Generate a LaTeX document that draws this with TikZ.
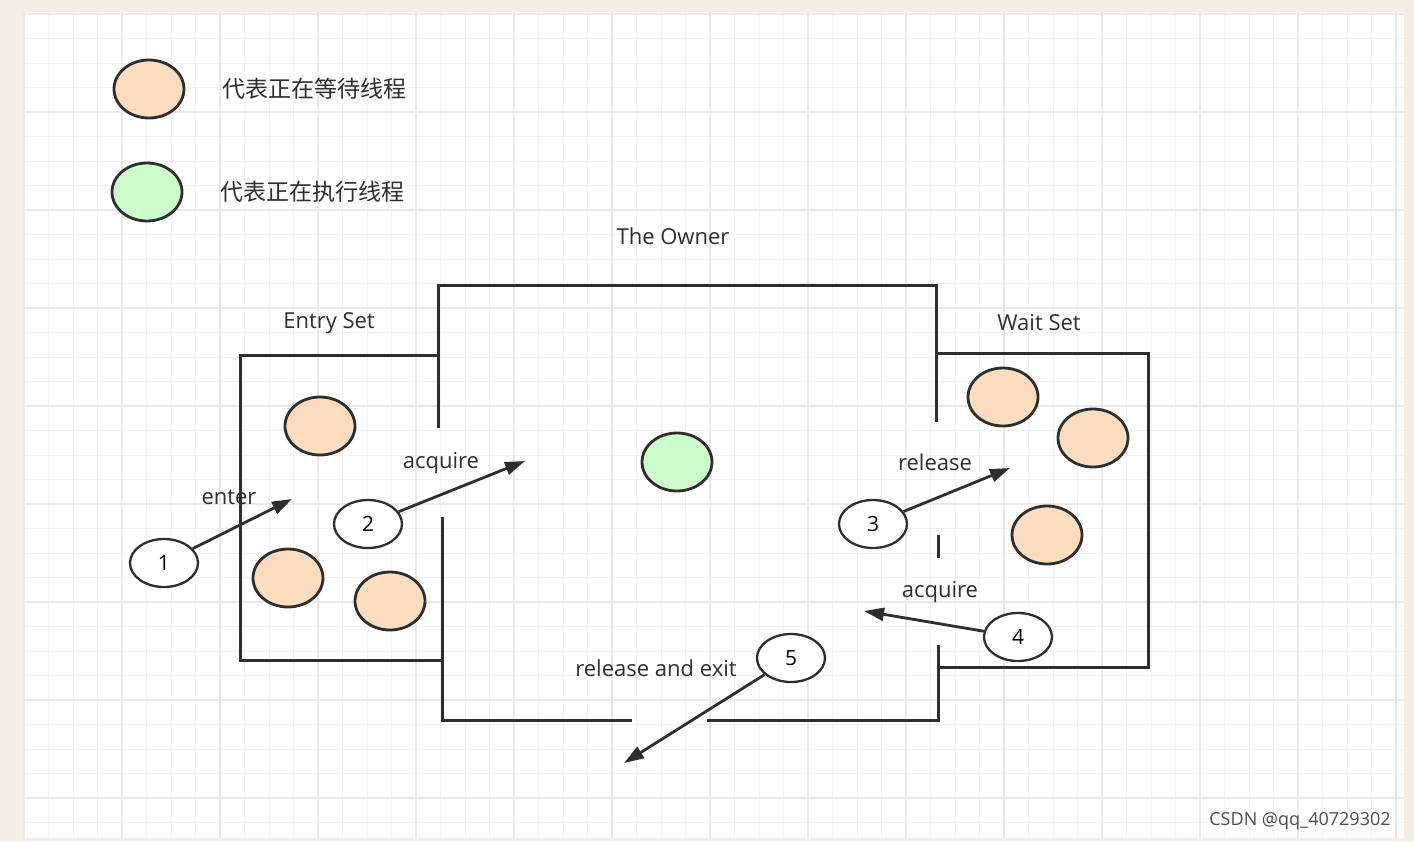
\documentclass[tikz,border=0pt]{standalone}
\usepackage{fontspec}
\setmainfont{Open Sans}
\newfontfamily\cjk{Noto Sans CJK SC}
\usetikzlibrary{arrows.meta,shapes.geometric}
\definecolor{bgout}{HTML}{F3EDE4}
\definecolor{gridc}{HTML}{F2F2F2}
\definecolor{gridm}{HTML}{E8E8E8}
\definecolor{orng}{HTML}{FDDCBF}
\definecolor{grn}{HTML}{CCFBCC}
\definecolor{ink}{HTML}{2E2E2E}
\begin{document}
\begin{tikzpicture}[x=1pt,y=-1pt,
  th/.style={ellipse,draw=ink,line width=2.8pt,minimum width=70pt,minimum height=58pt,inner sep=0pt},
  num/.style={ellipse,draw=ink,line width=2.3pt,fill=white,minimum width=68pt,minimum height=48pt,inner sep=0pt,font=\fontsize{21}{24}\selectfont},
  wall/.style={draw=ink,line width=3pt},
  arr/.style={draw=ink,line width=2.8pt,-{Triangle[length=20pt,width=13pt]}},
  lbl/.style={font=\fontsize{22}{26}\selectfont,text=ink}]
\useasboundingbox (0,0) rectangle (1414,841);
\fill[bgout] (0,0) rectangle (1414,841);
\fill[white] (24,12) rectangle (1404,838);
\foreach \i in {0,...,56} {\draw[gridc,line width=1pt] (24+24.5*\i,12) -- (24+24.5*\i,838);}
\foreach \j in {0,...,33} {\draw[gridc,line width=1pt] (24,14+24.5*\j) -- (1404,14+24.5*\j);}
\foreach \i in {0,...,14} {\draw[gridm,line width=1.2pt] (24+98*\i,12) -- (24+98*\i,838);}
\foreach \j in {0,...,8} {\draw[gridm,line width=1.2pt] (24,14+98*\j) -- (1404,14+98*\j);}
% legend
\node[th,fill=orng] (lo) at (149,89) {};
\node[th,fill=grn] (lg) at (147,192) {};
\node[lbl,anchor=west,font=\cjk\fontsize{23}{26}\selectfont] (lt1) at (219,89) {代表正在等待线程};
\node[lbl,anchor=west,font=\cjk\fontsize{23}{26}\selectfont] (lt2) at (217,192) {代表正在执行线程};
% walls
\draw[wall] (438,355) -- (240,355) -- (240,660) -- (442,660);
\draw[wall] (438,428) -- (438,285) -- (936,285) -- (936,422);
\draw[wall] (442,517) -- (442,720) -- (632,720);
\draw[wall] (707,720) -- (938,720) -- (938,645);
\draw[wall] (938,535) -- (938,558);
\draw[wall] (936,353) -- (1148,353) -- (1148,667) -- (940,667);
\node[lbl] (owner) at (673,236) {The Owner};
\node[lbl] (es) at (329,323) {Entry Set};
\node[lbl] (ws) at (1039,323) {Wait Set};
% threads
\node[th,fill=orng] (e1) at (320,426) {};
\node[th,fill=orng] (e2) at (288,578) {};
\node[th,fill=orng] (e3) at (390,601) {};
\node[th,fill=grn] (g) at (677,462) {};
\node[th,fill=orng] (w1) at (1003,397) {};
\node[th,fill=orng] (w2) at (1093,438) {};
\node[th,fill=orng] (w3) at (1047,535) {};
% numbered
\node[num] (n1) at (164,563) {1};
\node[num] (n2) at (368,524) {2};
\node[num] (n3) at (873,524) {3};
\node[num] (n4) at (1018,637) {4};
\node[num] (n5) at (791,658) {5};
\coordinate (t1) at (292,499);
\coordinate (t2) at (525,461);
\coordinate (t3) at (1010,468);
\coordinate (t4) at (864,611);
\coordinate (t5) at (624,763);
\draw[arr] (n1) -- (t1);
\draw[arr] (n2) -- (t2);
\draw[arr] (n3) -- (t3);
\draw[arr] (n4) -- (t4);
\draw[arr] (n5) -- (t5);
\node[lbl] (l1) at (229,497) {enter};
\node[lbl] (l2) at (441,463) {acquire};
\node[lbl] (l3) at (935,462) {release};
\node[lbl] (l4) at (940,592) {acquire};
\node[lbl] (l5) at (656,668) {release and exit};
\node[font=\fontsize{18}{20}\selectfont,text=ink!85] (wm) at (1300,821) {CSDN @qq\_40729302};
\end{tikzpicture}
\end{document}
